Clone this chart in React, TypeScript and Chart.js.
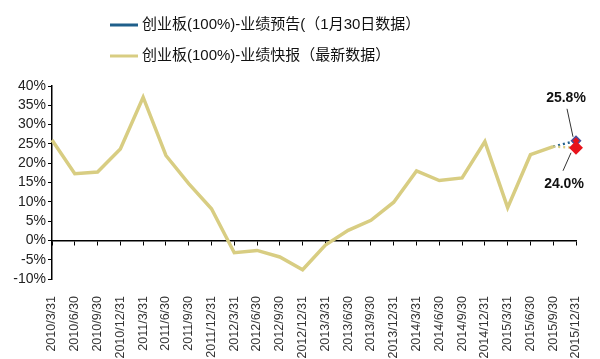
import React, { useEffect, useRef } from 'react';
import { Chart, registerables } from 'chart.js';

Chart.register(...registerables);

const categories = [
  '2010/3/31', '2010/6/30', '2010/9/30', '2010/12/31',
  '2011/3/31', '2011/6/30', '2011/9/30', '2011/12/31',
  '2012/3/31', '2012/6/30', '2012/9/30', '2012/12/31',
  '2013/3/31', '2013/6/30', '2013/9/30', '2013/12/31',
  '2014/3/31', '2014/6/30', '2014/9/30', '2014/12/31',
  '2015/3/31', '2015/6/30', '2015/9/30', '2015/12/31',
];

// 创业板(100%)-业绩快报（最新数据）
const quickReport = [
  26.0, 17.3, 17.7, 23.7,
  37.1, 22.0, 14.7, 8.2,
  -3.2, -2.6, -4.3, -7.6,
  -1.2, 2.6, 5.2, 9.9,
  18.0, 15.5, 16.2, 25.6,
  8.5, 22.2, 24.3, 24.0,
];

// 创业板(100%)-业绩预告(（1月30日数据）
const forecast: (number | null)[] = [
  null, null, null, null,
  null, null, null, null,
  null, null, null, null,
  null, null, null, null,
  null, null, null, null,
  null, null, 24.3, 25.8,
];

const legendLabels = [
  '创业板(100%)-业绩预告(（1月30日数据）',
  '创业板(100%)-业绩快报（最新数据）',
];

const annotationLabels = ['25.8%', '24.0%'];

const yMin = -10;
const yMax = 40;
const yStep = 5;

const BLUE = '#1f5f8b';
const YELLOW = '#d8cd82';
const RED = '#e8131c';
const FONT = '"Liberation Sans", Arial, sans-serif';
const CJK = '"Liberation Sans", "Noto Sans CJK SC", sans-serif';

const legendPlugin = {
  id: 'customLegend',
  afterDraw(chart: any) {
    const ctx = chart.ctx;
    ctx.save();
    const rows = [
      { y: 25, color: BLUE, text: legendLabels[0] },
      { y: 56, color: YELLOW, text: legendLabels[1] },
    ];
    rows.forEach((r) => {
      ctx.strokeStyle = r.color;
      ctx.lineWidth = 3;
      ctx.beginPath();
      ctx.moveTo(110, r.y);
      ctx.lineTo(138, r.y);
      ctx.stroke();
      ctx.fillStyle = '#111';
      ctx.font = `15px ${CJK}`;
      ctx.textAlign = 'left';
      ctx.textBaseline = 'middle';
      ctx.fillText(r.text, 142, r.y);
    });
    ctx.restore();
  },
};

const annotationPlugin = {
  id: 'valueAnnotations',
  afterDatasetsDraw(chart: any) {
    const ctx = chart.ctx;
    const last = categories.length - 1;
    const pBlue = chart.getDatasetMeta(1).data[last];
    const pYel = chart.getDatasetMeta(0).data[last];
    ctx.save();
    ctx.strokeStyle = '#333';
    ctx.lineWidth = 1;
    ctx.beginPath();
    ctx.moveTo(pBlue.x - 9, pBlue.y - 32);
    ctx.lineTo(pBlue.x - 3, pBlue.y - 4);
    ctx.moveTo(pYel.x - 5, pYel.y + 5);
    ctx.lineTo(pYel.x - 13, pYel.y + 23);
    ctx.stroke();
    ctx.fillStyle = '#111';
    ctx.font = `bold 14px ${FONT}`;
    ctx.textAlign = 'center';
    ctx.textBaseline = 'middle';
    ctx.fillText(annotationLabels[0], pBlue.x - 10, pBlue.y - 43);
    ctx.fillText(annotationLabels[1], pYel.x - 12, pYel.y + 36);
    ctx.restore();
  },
};

export default function App() {
  const canvasRef = useRef<HTMLCanvasElement | null>(null);

  useEffect(() => {
    if (!canvasRef.current) return;
    const last = categories.length - 1;
    const chart = new Chart(canvasRef.current, {
      type: 'line',
      data: {
        labels: categories,
        datasets: [
          {
            label: legendLabels[1],
            data: quickReport,
            borderColor: YELLOW,
            borderWidth: 3.5,
            tension: 0,
            pointRadius: quickReport.map((_, i) => (i === last ? 4.5 : 0)),
            pointStyle: 'rectRot',
            pointBackgroundColor: RED,
            pointBorderColor: RED,
            segment: {
              borderDash: (c: any) => (c.p1DataIndex === last ? [2, 3] : undefined),
              borderWidth: (c: any) => (c.p1DataIndex === last ? 2.5 : undefined),
            },
          },
          {
            label: legendLabels[0],
            data: forecast,
            borderColor: BLUE,
            borderWidth: 2.5,
            borderDash: [2, 3],
            tension: 0,
            pointRadius: forecast.map((_, i) => (i === last ? 4.5 : 0)),
            pointStyle: 'rectRot',
            pointBackgroundColor: RED,
            pointBorderColor: '#4a4f9c',
            pointBorderWidth: 1.5,
          },
        ],
      },
      options: {
        animation: false,
        responsive: true,
        maintainAspectRatio: false,
        layout: { padding: { top: 86, right: 18, left: 0, bottom: 0 } },
        plugins: {
          legend: { display: false },
          tooltip: { enabled: false },
        },
        scales: {
          x: {
            type: 'category',
            position: 'bottom',
            grid: { display: false },
            border: { display: false },
            ticks: {
              autoSkip: false,
              minRotation: 90,
              maxRotation: 90,
              padding: 9,
              color: '#333',
              font: { size: 12.5, family: FONT },
            },
            afterFit: (s: any) => {
              s.height = 80;
            },
          },
          x0: {
            type: 'category',
            position: { y: 0 },
            grid: {
              display: true,
              drawOnChartArea: false,
              drawTicks: true,
              tickLength: 4,
              color: '#000',
              lineWidth: 1,
            },
            border: { display: true, color: '#000', width: 1.5 },
            ticks: { display: false },
          },
          y: {
            min: yMin,
            max: yMax,
            grid: {
              drawOnChartArea: false,
              drawTicks: true,
              tickLength: 4,
              color: '#000',
            },
            border: { display: true, color: '#000', width: 1.5 },
            ticks: {
              stepSize: yStep,
              autoSkip: false,
              padding: 2,
              color: '#222',
              font: { size: 14, family: FONT },
              callback: (v: any) => `${v}%`,
            },
            afterFit: (s: any) => {
              s.width = 52;
            },
          },
        },
      } as any,
      plugins: [legendPlugin, annotationPlugin],
    });
    return () => chart.destroy();
  }, []);

  return (
    <div style={{ position: 'absolute', left: 0, top: 0, width: 600, height: 359, background: '#fff' }}>
      <canvas ref={canvasRef} />
    </div>
  );
}
